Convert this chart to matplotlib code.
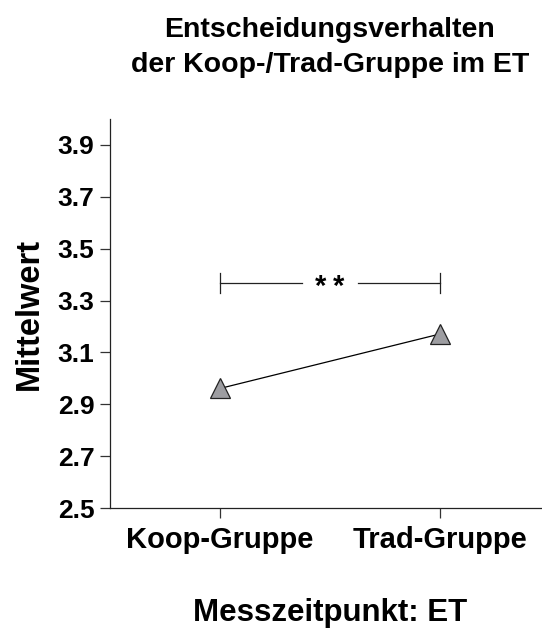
import matplotlib
matplotlib.use("Agg")
import matplotlib.pyplot as plt
from matplotlib.transforms import offset_copy

# Group means
groups = ["Koop-Gruppe", "Trad-Gruppe"]
means = [2.961, 3.171]
y_ticks = [2.5, 2.7, 2.9, 3.1, 3.3, 3.5, 3.7, 3.9]
y_tick_labels = ["2.5", "2.7", "2.9", "3.1", "3.3", "3.5", "3.7", "3.9"]
sig_level = 3.369
sig_label = "**"

title_lines = ["Entscheidungsverhalten", "der Koop-/Trad-Gruppe im ET"]
x_label = "Messzeitpunkt: ET"
y_label = "Mittelwert"

plt.rcParams["font.family"] = ["Liberation Sans", "DejaVu Sans"]
plt.rcParams["font.weight"] = "bold"

W, H = 542, 630
fig = plt.figure(figsize=(W / 100, H / 100), dpi=100)
left, right, top, bottom = 110, 542, 119, 508
ax = fig.add_axes([left / W, 1 - bottom / H, (right - left) / W, (bottom - top) / H])

x = list(range(len(groups)))
ax.plot(x, means, color="black", lw=0.9, zorder=2)
ax.plot(x, means, linestyle="none", marker="^", markersize=14.8,
        markerfacecolor="#9d9da1", markeredgecolor="#222222", markeredgewidth=0.9, zorder=3)

# Significance bracket, broken in the middle for the stars
mid = (x[0] + x[1]) / 2
gap = 0.126
line_kw = dict(color="#222222", lw=0.9)
ax.plot([x[0], mid - gap], [sig_level, sig_level], **line_kw)
ax.plot([mid + gap, x[1]], [sig_level, sig_level], **line_kw)
for xi in x:
    ax.plot([xi, xi], [sig_level - 0.0386, sig_level + 0.0386], **line_kw)

n = len(sig_label)
for i, ch in enumerate(sig_label):
    dx = (i - (n - 1) / 2) * 13.0  # points between star centres
    tr = offset_copy(ax.transData, fig=fig, x=dx, y=-8.5, units="points")
    ax.text(mid, sig_level, ch, transform=tr, ha="center", va="baseline",
            fontsize=21, fontweight="bold")

ax.set_xlim(-0.5, (right - left) / 220 - 0.5)
ax.set_ylim(2.5, 4.0)
ax.set_yticks(y_ticks)
ax.set_yticklabels(y_tick_labels)
ax.set_xticks(x)
ax.set_xticklabels(groups)

for s in ["top", "right"]:
    ax.spines[s].set_visible(False)
for s in ["left", "bottom"]:
    ax.spines[s].set_linewidth(0.9)
    ax.spines[s].set_color("#222222")

ax.tick_params(axis="both", length=7.2, width=0.9, color="#333333")
ax.tick_params(axis="y", labelsize=19, pad=4.1)
ax.tick_params(axis="x", labelsize=21, pad=6.0)
for lbl in ax.get_yticklabels() + ax.get_xticklabels():
    lbl.set_fontweight("bold")

cx = 330 / W
fig.text(cx, 1 - 36.7 / H, title_lines[0], ha="center", va="baseline",
         fontsize=20.5, fontweight="bold")
fig.text(cx, 1 - 72 / H, title_lines[1], ha="center", va="baseline",
         fontsize=20.5, fontweight="bold")
fig.text(cx, 1 - 621 / H, x_label, ha="center", va="baseline",
         fontsize=22.5, fontweight="bold")
fig.text(38 / W, 1 - 313.5 / H, y_label, ha="center", va="baseline",
         rotation=90, rotation_mode="anchor", fontsize=23.5, fontweight="bold")

fig.savefig("out.png", dpi=100)
